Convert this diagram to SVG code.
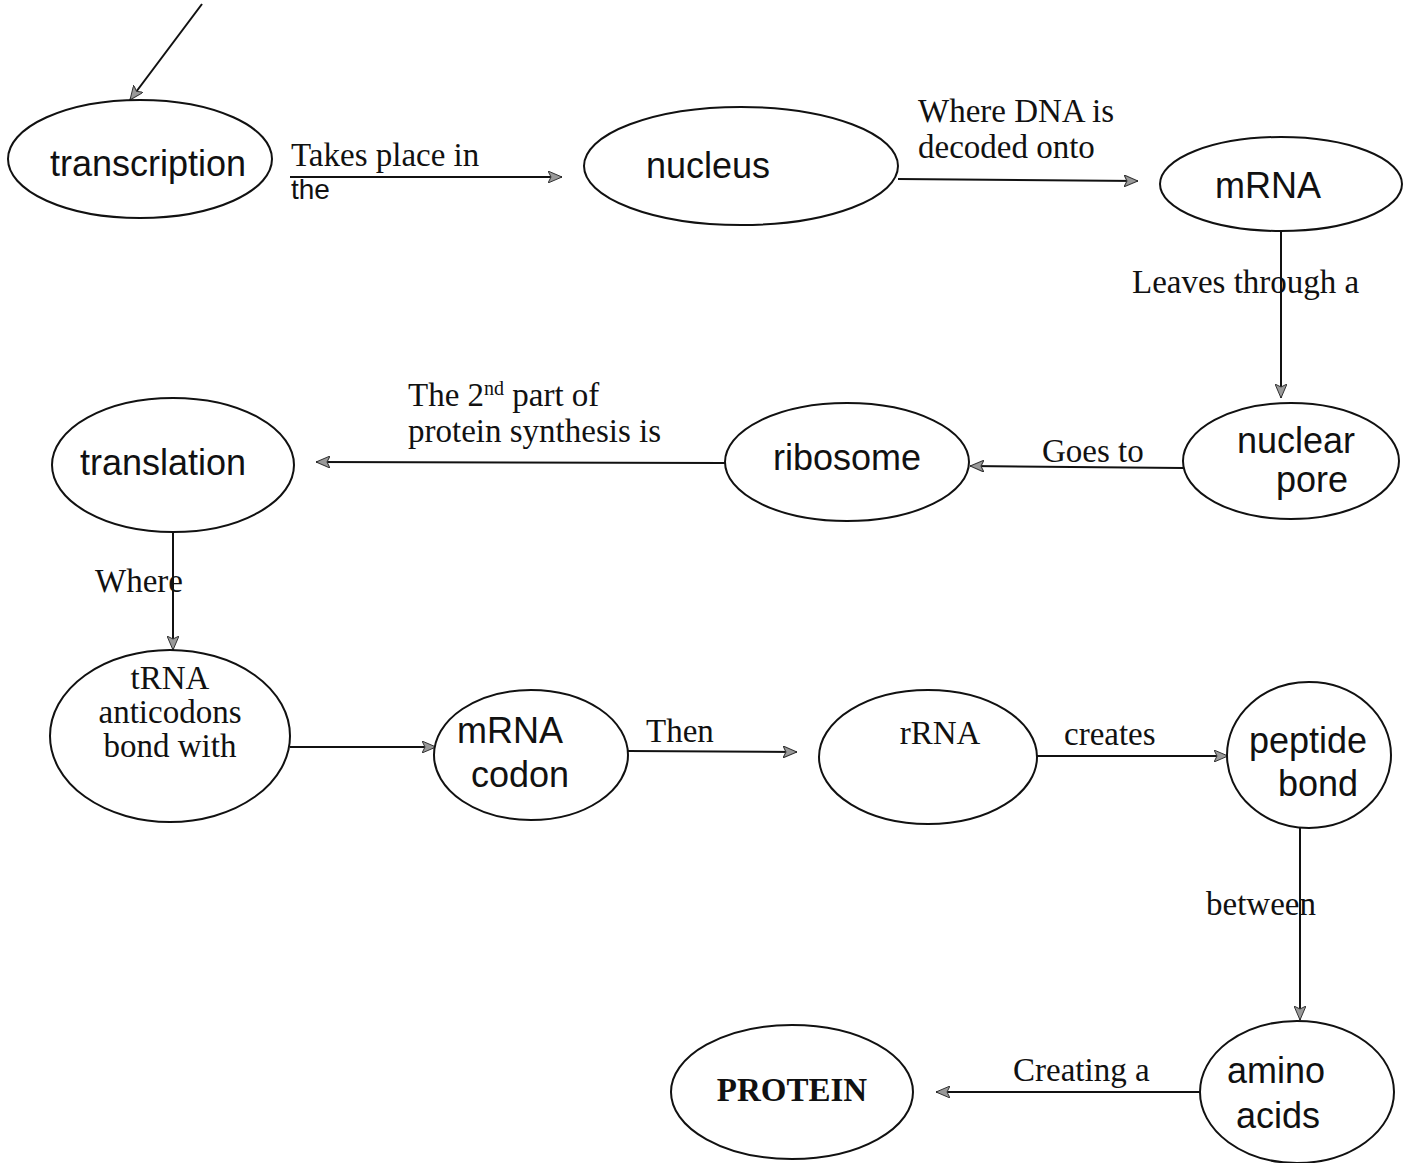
<svg xmlns="http://www.w3.org/2000/svg" width="1413" height="1163" viewBox="0 0 1413 1163">
<style>
.node{fill:#fff;stroke:#111;stroke-width:2}
.hw{font-family:"Liberation Sans","DejaVu Sans",sans-serif;font-size:36px;fill:#111;text-anchor:middle}
.lbl{font-family:"Liberation Serif","DejaVu Serif",serif;font-size:33px;fill:#111}
.ctr{text-anchor:middle}
.edge{stroke:#111;stroke-width:2;fill:none;marker-end:url(#ah)}
.hwl{font-family:"Liberation Sans","DejaVu Sans",sans-serif;font-size:28px;fill:#111}
</style>
<defs>
<marker id="ah" viewBox="0 0 14 12" refX="14" refY="6" markerWidth="14" markerHeight="12" markerUnits="userSpaceOnUse" orient="auto">
<path d="M0,0 L14,6 L0,12 L3,6 Z" fill="#999" stroke="#333" stroke-width="1"/>
</marker>
</defs>
<rect width="1413" height="1163" fill="#fff"/>
<g id="connectors">
<line class="edge" x1="202" y1="4" x2="130" y2="100"/>
<line class="edge" x1="290" y1="177" x2="562" y2="177"/>
<line class="edge" x1="898" y1="179" x2="1138" y2="181"/>
<line class="edge" x1="1281" y1="231" x2="1281" y2="398"/>
<line class="edge" x1="1183" y1="468" x2="970" y2="466"/>
<line class="edge" x1="725" y1="463" x2="316" y2="462"/>
<line class="edge" x1="173" y1="532" x2="173" y2="650"/>
<line class="edge" x1="290" y1="747" x2="436" y2="747"/>
<line class="edge" x1="628" y1="751" x2="797" y2="752"/>
<line class="edge" x1="1036" y1="756" x2="1228" y2="756"/>
<line class="edge" x1="1300" y1="828" x2="1300" y2="1020"/>
<line class="edge" x1="1203" y1="1092" x2="936" y2="1092"/>
</g>
<g id="edge-labels">
<text class="lbl" x="291" y="166">Takes place in</text>
<text class="hwl" x="291" y="199">the</text>
<text class="lbl" x="918" y="122">Where DNA is</text>
<text class="lbl" x="918" y="158">decoded onto</text>
<text class="lbl" x="1132" y="293">Leaves through a</text>
<text class="lbl" x="1042" y="462">Goes to</text>
<text class="lbl" x="408" y="406">The 2<tspan font-size="20" dy="-11">nd</tspan><tspan dy="11"> part of</tspan></text>
<text class="lbl" x="408" y="442">protein synthesis is</text>
<text class="lbl" x="95" y="592">Where</text>
<text class="lbl" x="646" y="742">Then</text>
<text class="lbl" x="1064" y="745">creates</text>
<text class="lbl" x="1206" y="915">between</text>
<text class="lbl" x="1013" y="1081">Creating a</text>
</g>
<g id="n-transcription"><ellipse class="node" cx="140" cy="159" rx="132" ry="59"/><text class="hw" x="148" y="176">transcription</text></g>
<g id="n-nucleus"><ellipse class="node" cx="741" cy="166" rx="157" ry="59"/><text class="hw" x="708" y="178">nucleus</text></g>
<g id="n-mrna"><ellipse class="node" cx="1281" cy="184" rx="121" ry="47"/><text class="hw" x="1268" y="198">mRNA</text></g>
<g id="n-nuclear-pore"><ellipse class="node" cx="1291" cy="461" rx="108" ry="58"/><text class="hw" x="1296" y="453" font-size="32">nuclear</text><text class="hw" x="1312" y="492" font-size="32">pore</text></g>
<g id="n-ribosome"><ellipse class="node" cx="847" cy="462" rx="122" ry="59"/><text class="hw" x="847" y="470">ribosome</text></g>
<g id="n-translation"><ellipse class="node" cx="173" cy="465" rx="121" ry="67"/><text class="hw" x="163" y="475">translation</text></g>
<g id="n-trna"><ellipse class="node" cx="170" cy="736" rx="120" ry="86"/><text class="lbl ctr" x="170" y="689">tRNA</text><text class="lbl ctr" x="170" y="723">anticodons</text><text class="lbl ctr" x="170" y="757">bond with</text></g>
<g id="n-mrna-codon"><ellipse class="node" cx="531" cy="755" rx="97" ry="65"/><text class="hw" x="510" y="743" font-size="32">mRNA</text><text class="hw" x="520" y="787" font-size="32">codon</text></g>
<g id="n-rrna"><ellipse class="node" cx="928" cy="757" rx="109" ry="67"/><text class="lbl ctr" x="940" y="744">rRNA</text></g>
<g id="n-peptide-bond"><ellipse class="node" cx="1309" cy="755" rx="82" ry="73"/><text class="hw" x="1308" y="753" font-size="33">peptide</text><text class="hw" x="1318" y="796" font-size="33">bond</text></g>
<g id="n-amino-acids"><ellipse class="node" cx="1297" cy="1092" rx="97" ry="71"/><text class="hw" x="1276" y="1083" font-size="32">amino</text><text class="hw" x="1278" y="1128" font-size="32">acids</text></g>
<g id="n-protein"><ellipse class="node" cx="792" cy="1092" rx="121" ry="67"/><text class="lbl ctr" x="792" y="1101" font-weight="bold" font-size="28">PROTEIN</text></g>
</svg>
